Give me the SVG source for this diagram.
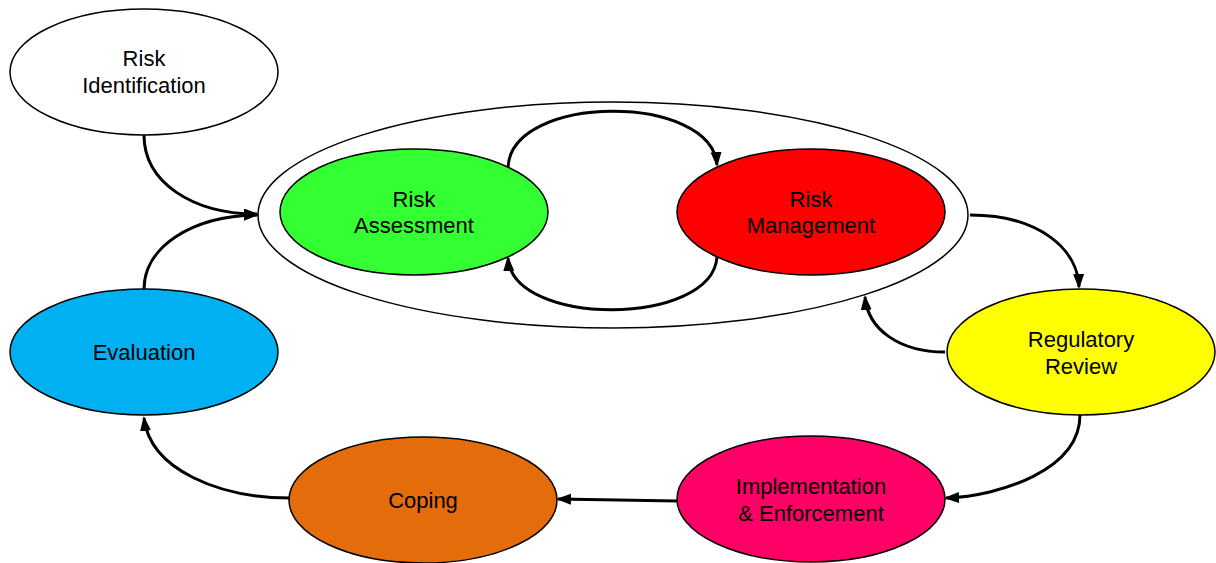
<svg xmlns="http://www.w3.org/2000/svg" width="1216" height="563" viewBox="0 0 1216 563">
<style>
.n{stroke:#000;stroke-width:1.5}
.t{font-family:"Liberation Sans",Arial,sans-serif;font-size:22px;fill:#000;text-anchor:middle}
.c{fill:none;stroke:#000;stroke-width:3;marker-end:url(#ah)}
</style>
<defs>
<marker id="ah" markerUnits="userSpaceOnUse" markerWidth="16" markerHeight="12" refX="13" refY="5.5" orient="auto">
<path d="M0,0 L15,5.5 L0,11 z" fill="#000"/>
</marker>
</defs>
<rect width="1216" height="563" fill="#fff"/>
<g id="outer"><ellipse class="n" cx="613" cy="215" rx="355" ry="113" fill="#fff"/></g>
<g id="risk-identification"><ellipse class="n" cx="144" cy="72" rx="134" ry="63" fill="#fff"/><text class="t" x="144" y="66">Risk</text><text class="t" x="144" y="93">Identification</text></g>
<g id="risk-assessment"><ellipse class="n" cx="414" cy="212" rx="134" ry="63" fill="#33FF33"/><text class="t" x="414" y="207">Risk</text><text class="t" x="414" y="233">Assessment</text></g>
<g id="risk-management"><ellipse class="n" cx="811" cy="212" rx="134" ry="63" fill="#FF0000"/><text class="t" x="811" y="207">Risk</text><text class="t" x="811" y="233">Management</text></g>
<g id="regulatory-review"><ellipse class="n" cx="1081" cy="352" rx="134" ry="63" fill="#FFFF00"/><text class="t" x="1081" y="347">Regulatory</text><text class="t" x="1081" y="374">Review</text></g>
<g id="implementation"><ellipse class="n" cx="811" cy="499" rx="134" ry="63" fill="#FF0066"/><text class="t" x="811" y="494">Implementation</text><text class="t" x="811" y="521">&amp; Enforcement</text></g>
<g id="coping"><ellipse class="n" cx="423" cy="500" rx="134" ry="63" fill="#E46C0A"/><text class="t" x="423" y="508">Coping</text></g>
<g id="evaluation"><ellipse class="n" cx="144" cy="352" rx="134" ry="63" fill="#00B0F0"/><text class="t" x="144" y="360">Evaluation</text></g>
<g id="connectors">
<path class="c" d="M144,135 C144,182 192,214 257,214"/>
<path class="c" d="M144,289 C144,248 190,216 257,215"/>
<path class="c" d="M508,167 C512,93 712,93 717,165"/>
<path class="c" d="M717,257 C712,327 512,327 508,258"/>
<path class="c" d="M970,215 C1040,215 1078,250 1079,287"/>
<path class="c" d="M945,352 C900,352 868,330 865,297"/>
<path class="c" d="M1080,415 C1080,470 1000,496 946,498"/>
<path class="c" d="M677,501 L558,499"/>
<path class="c" d="M290,498 C220,498 150,470 144,418"/>
</g>
</svg>
